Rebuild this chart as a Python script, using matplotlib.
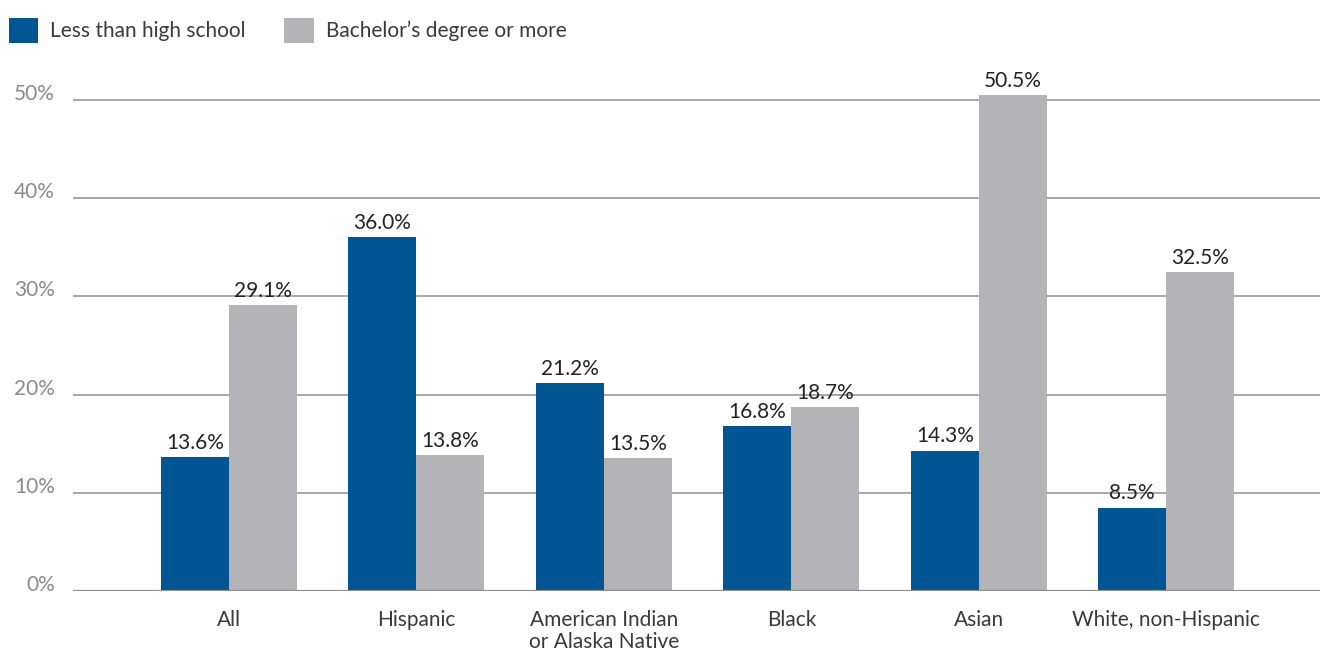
import matplotlib
matplotlib.use("Agg")
import matplotlib.pyplot as plt
from matplotlib.patches import Patch
import numpy as np

categories = ["All", "Hispanic", "American Indian\nor Alaska Native", "Black", "Asian", "White, non-Hispanic"]
less_than_hs = [13.6, 36.0, 21.2, 16.8, 14.3, 8.5]
bachelors = [29.1, 13.8, 13.5, 18.7, 50.5, 32.5]
series_names = ["Less than high school", "Bachelor\u2019s degree or more"]
yticks = [0, 10, 20, 30, 40, 50]

BLUE = "#005592"
GRAY = "#B3B3B8"
FONT = ["Lato", "DejaVu Sans"]
plt.rcParams["font.family"] = FONT
FS = 15

W, H = 1320, 653
fig = plt.figure(figsize=(W / 100, H / 100), dpi=100)
px_per_unit = 9.82
ytop = 54
ax = fig.add_axes([73 / W, 1 - 591 / H, 1 - 73 / W, ytop * px_per_unit / H])

x = np.arange(len(categories))
bw = 0.363
b1 = ax.bar(x - bw / 2, less_than_hs, bw, color=BLUE, zorder=3)
b2 = ax.bar(x + bw / 2, bachelors, bw, color=GRAY, zorder=3)

for bars, vals in ((b1, less_than_hs), (b2, bachelors)):
    for r, v in zip(bars, vals):
        ax.annotate(f"{v:.1f}%", (r.get_x() + r.get_width() / 2, v),
                    xytext=(0, 3), textcoords="offset points",
                    ha="center", va="bottom", fontsize=FS, color="#222222")

ax.set_xlim(-0.832, 5.82)
ax.set_ylim(0, ytop)
ax.set_yticks(yticks)
ax.set_yticklabels([f"{t}%" for t in yticks], color="#8a8a8a", fontsize=FS)
ax.set_xticks(x)
ax.set_xticklabels(categories, fontsize=FS, color="#3a3a3a", linespacing=1.12)
ax.tick_params(axis="both", length=0)
ax.tick_params(axis="y", pad=13)
ax.tick_params(axis="x", pad=14)
for lab in ax.get_yticklabels():
    lab.set_verticalalignment("baseline")
ax.grid(axis="y", color="#8f8f8f", linewidth=1.1, zorder=0)
for s in ax.spines.values():
    s.set_visible(False)
ax.axhline(0, color="#8f8f8f", linewidth=1.6, zorder=4)

handles = [Patch(facecolor=BLUE), Patch(facecolor=GRAY)]
fig.legend(handles, series_names, loc="upper left", bbox_to_anchor=(-4 / W, 1 - 6 / H),
           ncol=2, frameon=False, handlelength=1.4, handleheight=1.4,
           handletextpad=0.6, columnspacing=1.85, labelcolor="#3a3a3a", borderaxespad=0.2,
           prop={"size": FS, "family": FONT})

fig.savefig("out.png", dpi=100)
